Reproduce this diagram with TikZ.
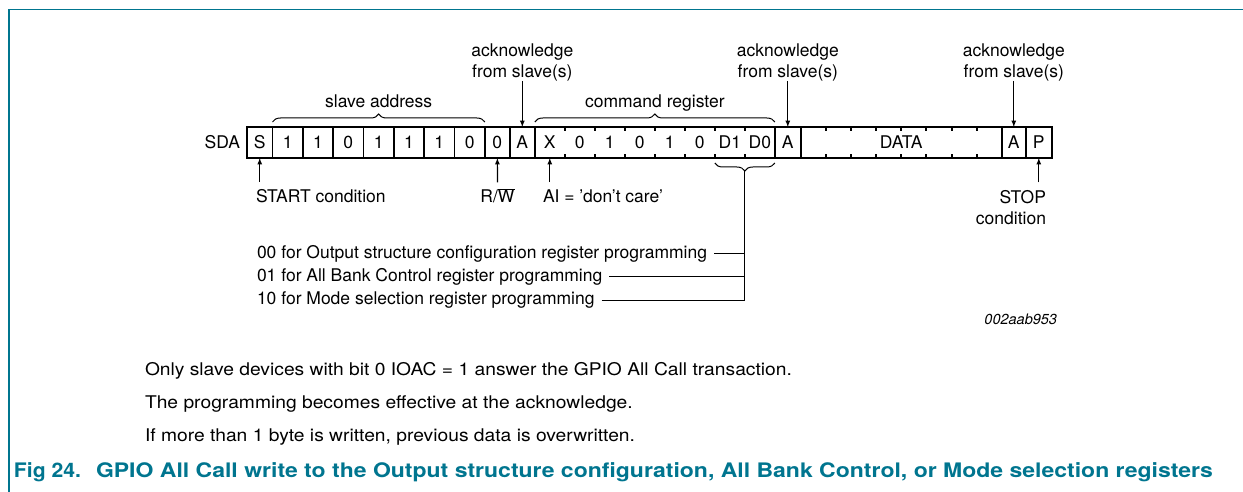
\documentclass[tikz,border=0pt]{standalone}
\usepackage{fontspec}
\setmainfont{TeX Gyre Heros}
\usetikzlibrary{chains,positioning,decorations.pathreplacing,arrows}
\definecolor{figteal}{RGB}{0,117,143}

\begin{document}
\begin{tikzpicture}[x=1pt,y=-1pt,
    every node/.style={
      inner sep=0pt,
      outer sep=0pt,
      font=\fontsize{17.5}{21}\selectfont
    },
    cell/.style={
      draw,
      line width=1.9pt,
      minimum height=31pt
    },
    tick/.style={line width=1.9pt},
    arr/.style={-latex, line width=1.2pt},
    up/.style={-latex, line width=1.2pt, shorten <=8pt},
    brc/.style={
      decorate,
      decoration={brace,amplitude=8pt},
      line width=1pt
    },
    conn/.style={line width=1pt},
    note/.style={anchor=base west,xscale=1.1},
    capt/.style={
      anchor=base west,
      xscale=1.15,
      font=\fontsize{20}{24}\selectfont\bfseries,
      text=figteal
    },
    start chain=going right,node distance=0pt
    ]
    \useasboundingbox (0,0) rectangle (1243,492);
    \draw[figteal,line width=1.3pt] (9,492) -- (9,9.5) -- (1243,9.5);

    % SDA frame
    \node[on chain,cell,anchor=west,minimum width=25.5pt] at (247,142.5)
      (s) {S};
    \foreach \b [count=\i] in {1,1,0,1,1,1,0}
      \node[on chain,cell,minimum width=30.33pt] (a\i) {\b};
    \node[on chain,cell,minimum width=25pt] (rw) {0};
    \node[on chain,cell,minimum width=25pt] (ack1) {A};
    \node[on chain,cell,minimum width=240pt] (cmd) {};
    \node[on chain,cell,minimum width=26pt] (ack2) {A};
    \node[on chain,cell,minimum width=201pt] (data) {DATA};
    \node[on chain,cell,minimum width=24pt] (ack3) {A};
    \node[on chain,cell,minimum width=26pt] (p) {P};
    \node[left=7pt of s] (sda) {SDA};

    \foreach \t [count=\i] in {X,0,1,0,1,0,D1,D0}
      \node (c\i) at ([xshift=(\i*30-15)*1pt]cmd.west) {\t};
    \foreach \i in {1,...,7} {
      \draw[tick] ([xshift=\i*30pt]cmd.north west) -- ++(0,4);
      \draw[tick] ([xshift=\i*30pt]cmd.south west) -- ++(0,-4);
      \draw[tick] ([xshift=\i*25.125pt]data.north west) -- ++(0,4);
      \draw[tick] ([xshift=\i*25.125pt]data.south west) -- ++(0,-4);
    }

    % acknowledges
    \node[align=center,above=46pt of ack1] (ackt1) {acknowledge\\from slave(s)};
    \node[align=center,above=46pt of ack2] (ackt2) {acknowledge\\from slave(s)};
    \node[align=center,above=46pt of ack3] (ackt3) {acknowledge\\from slave(s)};
    \draw[arr] (ackt1) -- (ack1);
    \draw[arr] (ackt2) -- (ack2);
    \draw[arr] (ackt3) -- (ack3);

    % braces
    \draw[brc] ([yshift=5pt]a1.north west) -- node[above=14pt,text depth=0pt]
      (slvadr) {slave address} ([yshift=5pt]a7.north east);
    \draw[brc] ([yshift=5pt]cmd.north west) -- node[above=14pt,text depth=0pt]
      (cmdreg) {command register} ([yshift=5pt]cmd.north east);
    \draw[brc] ([yshift=-5pt]cmd.south east) -- coordinate[below=8pt] (dtip)
      ([xshift=180pt,yshift=-5pt]cmd.south west);

    % labels below
    \node[anchor=base west] at (256,203) (startc) {START condition};
    \node[anchor=base,text height=12.6pt] at (497.5,203) (rwl)
      {R/\ensuremath{\overline{\hbox{W}}}};
    \node[anchor=base west] at (543,203) (ail) {AI = 'don't care'};
    \node[anchor=north east,align=right] at (1046,190.5) (stop)
      {STOP\\condition};
    \draw[up] (startc.north -| s) -- (s);
    \draw[up] (rwl) -- (rw);
    \draw[up] (ail.north -| c1) -- (c1 |- cmd.south);
    \draw[up] (stop.north -| p) -- (p);

    \node[anchor=base west] at (257,258) (opt1)
      {00 for Output structure configuration register programming};
    \node[anchor=base west] at (257,281.5) (opt2)
      {01 for All Bank Control register programming};
    \node[anchor=base west] at (257,304.5) (opt3)
      {10 for Mode selection register programming};
    \foreach \o in {opt1,opt2,opt3}
      \draw[conn] ([xshift=7pt]\o.east) -- (\o.east -| dtip);
    \draw[conn] (dtip) -- (dtip |- opt3.east);

    \node[anchor=base east,font=\fontsize{14.5}{17}\selectfont\itshape]
      at (1057,324) (figid) {002aab953};

    % notes and caption
    \node[note] at (145,375) (note1)
      {Only slave devices with bit 0 IOAC = 1 answer the GPIO All Call transaction.};
    \node[note] at (145,408) (note2)
      {The programming becomes effective at the acknowledge.};
    \node[note] at (145,441) (note3)
      {If more than 1 byte is written, previous data is overwritten.};
    \node[capt,xscale=0.92] at (14,477) (fig) {Fig 24.};
    \node[capt] at (96,477) (figtxt)
      {GPIO All Call write to the Output structure configuration, All Bank Control, or Mode selection registers};
\end{tikzpicture}
\end{document}
